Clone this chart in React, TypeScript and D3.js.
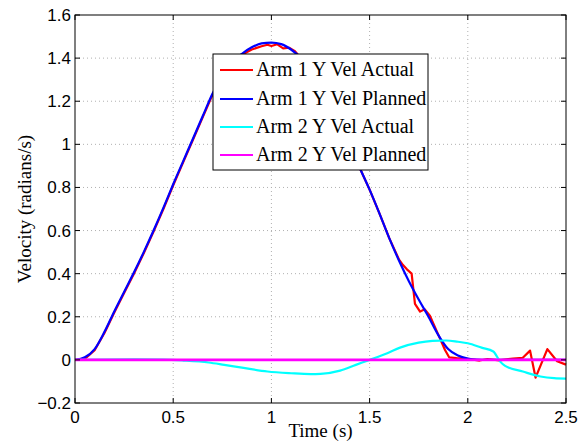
import React from "react";
import * as d3 from "d3";

const xTicks = [0, 0.5, 1, 1.5, 2, 2.5];
const yTicks = [-0.2, 0, 0.2, 0.4, 0.6, 0.8, 1, 1.2, 1.4, 1.6];
const seriesNames = ["Arm 1 Y Vel Actual", "Arm 1 Y Vel Planned", "Arm 2 Y Vel Actual", "Arm 2 Y Vel Planned"];
const seriesColors = ["#ff0000", "#0000ff", "#00ffff", "#ff00ff"];

const arm1Planned: [number, number][] = [
  [0, 0], [0.05, 0.012], [0.1, 0.05], [0.15, 0.13], [0.2, 0.225], [0.25, 0.315], [0.3, 0.405],
  [0.35, 0.5], [0.4, 0.6], [0.45, 0.705], [0.5, 0.815], [0.55, 0.92], [0.6, 1.025], [0.65, 1.13],
  [0.7, 1.235], [0.75, 1.315], [0.8, 1.38], [0.85, 1.42], [0.9, 1.45], [0.95, 1.468], [1.0, 1.472],
  [1.05, 1.465], [1.1, 1.44], [1.15, 1.4], [1.2, 1.34], [1.25, 1.26], [1.3, 1.17], [1.35, 1.08],
  [1.4, 0.99], [1.45, 0.89], [1.5, 0.79], [1.55, 0.68], [1.6, 0.565], [1.65, 0.46], [1.7, 0.365],
  [1.75, 0.28], [1.8, 0.2], [1.85, 0.115], [1.9, 0.05], [1.95, 0.02], [2.0, 0.006], [2.05, 0.001],
  [2.1, 0], [2.5, 0],
];

const arm1Actual: [number, number][] = [
  [0, 0], [0.05, 0.004], [0.1, 0.045], [0.15, 0.125], [0.2, 0.22], [0.25, 0.31], [0.3, 0.4],
  [0.35, 0.495], [0.4, 0.595], [0.45, 0.7], [0.5, 0.81], [0.55, 0.915], [0.6, 1.02], [0.65, 1.125],
  [0.7, 1.23], [0.75, 1.31], [0.8, 1.375], [0.85, 1.415], [0.9, 1.44], [0.95, 1.455], [0.98, 1.462],
  [1.0, 1.456], [1.03, 1.464], [1.06, 1.445], [1.09, 1.448], [1.12, 1.432], [1.15, 1.4], [1.2, 1.34],
  [1.25, 1.26], [1.3, 1.17], [1.35, 1.08], [1.4, 0.99], [1.45, 0.89], [1.5, 0.79], [1.55, 0.68],
  [1.6, 0.565], [1.65, 0.465], [1.67, 0.44], [1.69, 0.42], [1.714, 0.4], [1.731, 0.26], [1.757, 0.224],
  [1.78, 0.235], [1.807, 0.205], [1.858, 0.1], [1.884, 0.046], [1.905, 0.012], [1.943, 0.008],
  [1.98, 0.006], [2.02, 0.002], [2.06, -0.003], [2.1, 0.004], [2.16, -0.002], [2.23, 0.006],
  [2.28, 0.01], [2.317, 0.043], [2.345, -0.082], [2.405, 0.05], [2.455, -0.006], [2.5, -0.022],
];

const arm2Actual: [number, number][] = [
  [0, 0], [0.3, 0.002], [0.45, 0.001], [0.55, -0.003], [0.68, -0.012], [0.76, -0.023],
  [0.85, -0.036], [0.98, -0.054], [1.1, -0.062], [1.2, -0.066], [1.25, -0.065], [1.35, -0.05],
  [1.43, -0.023], [1.5, 0], [1.59, 0.031], [1.655, 0.057], [1.75, 0.08], [1.82, 0.088],
  [1.89, 0.09], [1.95, 0.084], [2.0, 0.077], [2.07, 0.057], [2.13, 0.039], [2.165, -0.008],
  [2.19, -0.028], [2.28, -0.054], [2.37, -0.077], [2.44, -0.085], [2.5, -0.087],
];

const arm2Planned: [number, number][] = [
  [0, 0], [0.5, 0], [1, 0], [1.5, 0], [2, 0], [2.5, 0],
];

export default function App() {
  const W = 585, H = 445;
  const L = 75, R = 566, T = 15, B = 403;
  const x = d3.scaleLinear().domain([0, 2.5]).range([L, R]);
  const y = d3.scaleLinear().domain([-0.2, 1.6]).range([B, T]);
  const smooth = d3.line<[number, number]>().x(d => x(d[0])).y(d => y(d[1])).curve(d3.curveMonotoneX);
  const linear = d3.line<[number, number]>().x(d => x(d[0])).y(d => y(d[1]));
  const sans = "'Liberation Sans', Arial, sans-serif";
  const serif = "'Liberation Serif', 'Times New Roman', serif";
  const series = [
    { d: linear(arm1Actual), c: seriesColors[0], w: 2.2 },
    { d: smooth(arm1Planned), c: seriesColors[1], w: 2.2 },
    { d: smooth(arm2Actual), c: seriesColors[2], w: 2.2 },
    { d: linear(arm2Planned), c: seriesColors[3], w: 2.6 },
  ];
  const legX = 213, legY = 54, legW = 215, legH = 116;
  const legRows = [70, 99, 127, 155];
  return (
    <svg width={W} height={H} style={{ position: "absolute", left: 0, top: 0, background: "#fff" }}>
      <rect x={0} y={0} width={W} height={H} fill="#fff" />
      {xTicks.filter(t => t > 0 && t < 2.5).map(t => (
        <line key={"gx" + t} x1={x(t)} x2={x(t)} y1={T} y2={B} stroke="#b0b0b0" strokeWidth={1} strokeDasharray="1,3" />
      ))}
      {yTicks.filter(t => t > -0.2 && t < 1.6).map(t => (
        <line key={"gy" + t} x1={L} x2={R} y1={y(t)} y2={y(t)} stroke="#b0b0b0" strokeWidth={1} strokeDasharray="1,3" />
      ))}
      {series.map((s, i) => (
        <path key={i} d={s.d || ""} fill="none" stroke={s.c} strokeWidth={s.w} strokeLinejoin="round" />
      ))}
      <rect x={L} y={T} width={R - L} height={B - T} fill="none" stroke="#000" strokeWidth={1} />
      {xTicks.map(t => (
        <g key={"tx" + t}>
          <line x1={x(t)} x2={x(t)} y1={B} y2={B - 5} stroke="#000" />
          <line x1={x(t)} x2={x(t)} y1={T} y2={T + 5} stroke="#000" />
          <text x={x(t)} y={423} textAnchor="middle" fontFamily={sans} fontSize={17}>{String(t)}</text>
        </g>
      ))}
      {yTicks.map(t => (
        <g key={"ty" + t}>
          <line x1={L} x2={L + 5} y1={y(t)} y2={y(t)} stroke="#000" />
          <line x1={R} x2={R - 5} y1={y(t)} y2={y(t)} stroke="#000" />
          <text x={71} y={y(t) + 6} textAnchor="end" fontFamily={sans} fontSize={17}>
            {t < 0 ? "\u2212" + String(Math.abs(t)) : String(t)}
          </text>
        </g>
      ))}
      <text x={(L + R) / 2} y={437} textAnchor="middle" fontFamily={serif} fontSize={19}>Time (s)</text>
      <text transform={`translate(31,${(T + B) / 2}) rotate(-90)`} textAnchor="middle" fontFamily={serif} fontSize={19}>
        Velocity (radians/s)
      </text>
      <rect x={legX} y={legY} width={legW} height={legH} fill="#fff" stroke="#000" strokeWidth={1} />
      {seriesNames.map((n, i) => (
        <g key={n}>
          <line x1={220} x2={253} y1={legRows[i]} y2={legRows[i]} stroke={seriesColors[i]} strokeWidth={2.2} />
          <text x={256} y={legRows[i] + 6} fontFamily={serif} fontSize={20}>{n}</text>
        </g>
      ))}
    </svg>
  );
}
